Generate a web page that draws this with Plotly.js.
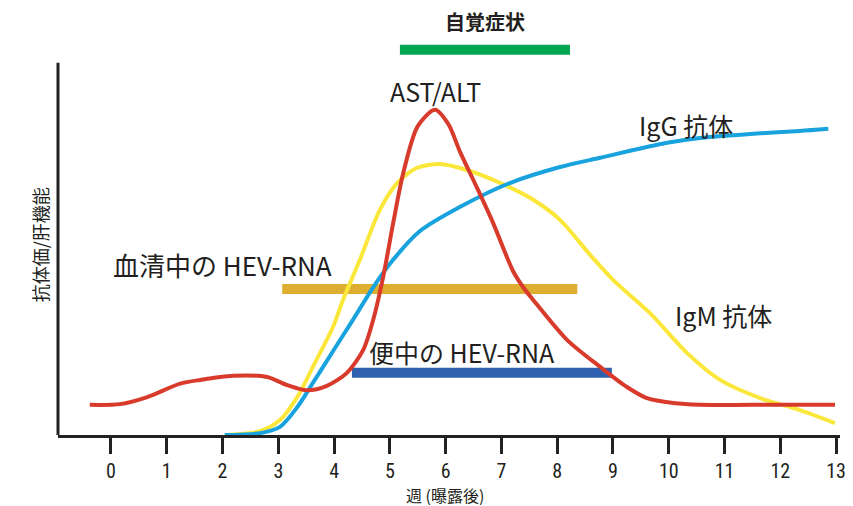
<!DOCTYPE html>
<html><head><meta charset="utf-8">
<script src="https://cdn.plot.ly/plotly-3.0.1.min.js"></script>
<style>html,body{margin:0;padding:0;background:#fff}#c{width:853px;height:506px}</style>
</head><body><div id="c"></div>
<script>
// AST/ALT (red)
const astX = [-0.38, 0.16, 0.65, 1.24, 1.6, 2.19, 2.8, 3.16, 3.51, 3.87, 4.23, 4.52, 4.7, 4.88, 5.06, 5.24, 5.5, 5.81, 6.05, 6.26, 6.56, 6.85, 7.21, 7.4, 7.57, 8.18, 8.77, 9.25, 9.61, 10.08, 10.56, 11.5, 12.98];
const astY = [8.1, 8.3, 10.2, 13.8, 14.8, 15.9, 15.6, 13.4, 12, 13.2, 16.7, 22.8, 30.9, 42.5, 57, 70.4, 83, 87.4, 83.5, 76, 66.5, 57, 44, 39.5, 36.3, 25.5, 18.3, 12.9, 9.9, 8.6, 8.1, 8.1, 8.1];
// IgM antibody (yellow)
const igmX = [2.04, 2.67, 3.03, 3.34, 3.62, 3.98, 4.16, 4.46, 4.82, 5.13, 5.49, 5.9, 6.38, 6.98, 7.57, 8.05, 8.59, 9.0, 9.66, 10.33, 10.92, 11.64, 12.35, 12.98];
const igmY = [0, 1.0, 4, 10.2, 18.3, 29, 36.3, 47, 60.5, 67.7, 71.8, 72.8, 71.2, 67.7, 63.2, 57.8, 48.4, 41.7, 32.8, 22, 14.8, 9.9, 6.7, 3.2];
// IgG antibody (light blue)
const iggX = [2.04, 2.67, 3.03, 3.34, 3.62, 3.98, 4.34, 4.68, 5.0, 5.54, 6.26, 7.15, 8.05, 8.77, 9.97, 10.56, 11.46, 12.35, 12.86];
const iggY = [0, 0.5, 2.2, 7.5, 14, 22.5, 31, 39.2, 46, 54.8, 61.3, 67.7, 72, 74.5, 78.5, 79.8, 80.9, 81.7, 82.3];
// Duration bars [start, end] and level
const symptomX = [5.18, 8.23], symptomY = [103.5, 103.5];
const serumX = [3.07, 8.36], serumY = [39.2, 39.2];
const stoolX = [4.32, 8.98], stoolY = [16.7, 16.7];
// Tick labels
const tickVals = [0,1,2,3,4,5,6,7,8,9,10,11,12,13];
const tickText = tickVals.map(String);

const txt = '#231f20';
const cjk = '"Noto Sans CJK JP", "Noto Sans", sans-serif';
const traces = [
  {x: symptomX, y: symptomY, mode:'lines', line:{color:'#00a651', width:10}},
  {x: serumX, y: serumY, mode:'lines', line:{color:'#ddae2f', width:10}},
  {x: stoolX, y: stoolY, mode:'lines', line:{color:'#2f61b0', width:10}},
  {x: igmX, y: igmY, mode:'lines', line:{color:'#fbe73a', width:4, shape:'spline', smoothing:0.8}},
  {x: iggX, y: iggY, mode:'lines', line:{color:'#18a3de', width:4, shape:'spline', smoothing:0.8}},
  {x: astX, y: astY, mode:'lines', line:{color:'#d83a2b', width:4, shape:'spline', smoothing:0.8}}
];
const ann = (text, x, y, size) => ({text, x, y, xref:'x', yref:'y', showarrow:false, font:{family:cjk, size, color:txt}});
const layout = {
  width:853, height:506, showlegend:false,
  paper_bgcolor:'#fff', plot_bgcolor:'#fff',
  margin:{l:58, r:13, t:7, b:71},
  xaxis:{range:[-0.95, 13.07], tickvals:tickVals, ticktext:tickText, showgrid:false, zeroline:false,
    showline:true, linecolor:'#222', linewidth:3, ticks:'outside', ticklen:16, tickwidth:3, tickcolor:'#222',
    tickfont:{family:'"Liberation Sans Narrow", "Roboto Condensed", sans-serif', size:20, color:txt}},
  yaxis:{range:[0, 115], showgrid:false, zeroline:false, showticklabels:false, ticks:'', showline:false},
  shapes:[{type:'line', xref:'paper', yref:'y', x0:0, x1:0, y0:0, y1:100, line:{color:'#222', width:3}}],
  annotations:[
    ann('<b>自覚症状</b>', 6.71, 111, 20),
    ann('AST/ALT', 5.81, 92.3, 25),
    ann('IgG 抗体', 10.3, 83.3, 25),
    ann('IgM 抗体', 10.98, 32.3, 25),
    ann('血清中の HEV-RNA', 2.0, 45.7, 26),
    ann('便中の HEV-RNA', 6.3, 22.3, 25),
    {text:'抗体価/肝機能', xref:'paper', yref:'y', x:-0.042, y:51, textangle:-90, showarrow:false,
      font:{family:cjk, size:18, color:txt}},
    {text:'週 (曝露後)', xref:'x', yref:'paper', x:5.99, y:-0.14, yanchor:'middle', showarrow:false,
      font:{family:cjk, size:16, color:txt}}
  ]
};
Plotly.newPlot('c', traces, layout, {displayModeBar:false, staticPlot:true});
</script></body></html>
